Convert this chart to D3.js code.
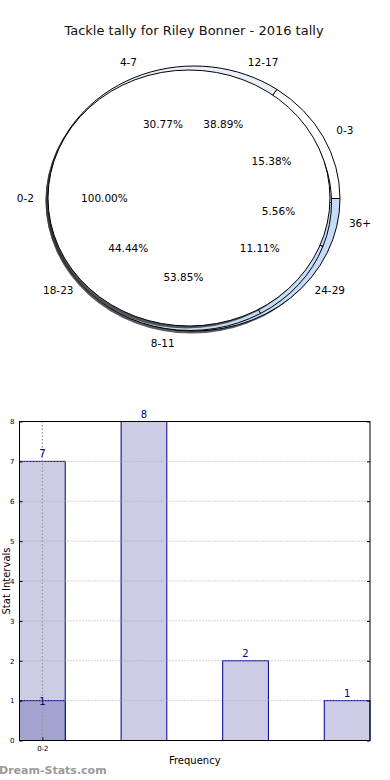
<!DOCTYPE html>
<html>
<head>
<meta charset="utf-8">
<script src="https://cdn.jsdelivr.net/npm/d3@7"></script>
<style>
  body { margin: 0; background: #fff; }
  svg { display: block; font-family: "DejaVu Sans", sans-serif; }
</style>
</head>
<body>
<script>
// data for the pies (one pie per group, drawn on top of each other)
let pie1Labels = ["0-2"];
let pie1Values = [1];
let pie2Labels = ["0-3", "4-7", "8-11"];
let pie2Values = [2, 4, 7];
let pie3Labels = ["12-17", "18-23", "24-29", "36+"];
let pie3Values = [7, 8, 2, 1];

// data for the bars
let barCats = [0, 1, 2, 3];
let barValues = [7, 8, 2, 1];
let barBaseValues = [1];
let xTickLabels = ["0-2"];
let yTicks = [0, 1, 2, 3, 4, 5, 6, 7, 8];

let width = 390, height = 780;

let svg = d3.select("body").append("svg")
  .attr("width", width)
  .attr("height", height);

svg.append("text")
  .attr("x", 194)
  .attr("y", 35)
  .attr("text-anchor", "middle")
  .attr("font-size", "13px")
  .attr("fill", "#111")
  .text("Tackle tally for Riley Bonner - 2016 tally");

// ---- pies ----
// matplotlib style: start at east, go counter clockwise
function drawPie(g, labels, values, cx, cy, rx, ry, colors, showShadow) {
  let pie = d3.pie().sort(null)
    .startAngle(Math.PI / 2)
    .endAngle(Math.PI / 2 - 2 * Math.PI);
  let arcs = pie(values);
  let arc = d3.arc().innerRadius(0).outerRadius(1);
  let grp = g.append("g");

  if (showShadow) {
    grp.append("ellipse")
      .attr("cx", cx - 2.5).attr("cy", cy + 2.5)
      .attr("rx", rx).attr("ry", ry)
      .attr("fill", "#333").attr("opacity", 0.8);
  }

  let wedges = grp.append("g")
    .attr("transform", "translate(" + cx + "," + cy + ") scale(" + rx + "," + ry + ")");
  wedges.selectAll("path")
    .data(arcs)
    .enter()
    .append("path")
    .attr("d", arc)
    .attr("fill", (d, i) => colors[i])
    .attr("stroke", "#000")
    .attr("stroke-width", 1)
    .attr("vector-effect", "non-scaling-stroke");

  return arcs.map((d, i) => {
    // d3 angle -> math angle
    let mid = (d.startAngle + d.endAngle) / 2;
    let a = Math.PI / 2 - mid;
    return {label: labels[i], pct: values[i] / d3.sum(values) * 100,
            cos: Math.cos(a), sin: Math.sin(a)};
  });
}

let pieG = svg.append("g");
let lab2 = drawPie(pieG, pie2Labels, pie2Values, 194, 198.5, 146, 132.5,
  ["#ffffff", "#e9f0fc", "#c6dbf7"], true);
let lab3 = drawPie(pieG, pie3Labels, pie3Values, 190, 202.5, 141.5, 128,
  ["#eef3fc", "#c6dbf7", "#c6dbf7", "#c6dbf7"], false);
let lab1 = drawPie(pieG, pie1Labels, pie1Values, 189, 198, 141, 128,
  ["#ffffff"], true);

// label positions use one common geometry per pie, like the reference
let labelGeo = [
  {labels: lab1, cx: 189, cy: 198, rx: 141, ry: 128},
  {labels: lab2, cx: 194, cy: 198.5, rx: 146, ry: 132.5},
  {labels: lab3, cx: 194, cy: 198, rx: 143, ry: 131}
];
labelGeo.forEach(function(p) {
  p.labels.forEach(function(d) {
    pieG.append("text")
      .attr("x", p.cx + 1.1 * p.rx * d.cos)
      .attr("y", p.cy - 1.1 * p.ry * d.sin)
      .attr("dy", "0.35em")
      .attr("text-anchor", d.cos >= 0 ? "start" : "end")
      .attr("font-size", "10.5px")
      .text(d.label);
    pieG.append("text")
      .attr("x", p.cx + 0.6 * p.rx * d.cos)
      .attr("y", p.cy - 0.6 * p.ry * d.sin)
      .attr("dy", "0.35em")
      .attr("text-anchor", "middle")
      .attr("font-size", "10.5px")
      .text(d.pct.toFixed(2) + "%");
  });
});

// ---- bars ----
let plotLeft = 19.5, plotRight = 370, plotTop = 421.5, plotBottom = 740.5;

let x = d3.scaleLinear()
  .domain([-0.225, 3.225])
  .range([plotLeft, plotRight]);
let y = d3.scaleLinear()
  .domain([0, 8])
  .range([plotBottom, plotTop]);
let bw = x(0.45) - x(0);

let barG = svg.append("g");

barG.selectAll(".bar")
  .data(barCats)
  .enter()
  .append("rect")
  .attr("class", "bar")
  .attr("x", d => x(d) - bw / 2)
  .attr("y", (d, i) => y(barValues[i]))
  .attr("width", bw)
  .attr("height", (d, i) => y(0) - y(barValues[i]))
  .attr("fill", "#cccce4")
  .attr("stroke", "#00008b")
  .attr("stroke-width", 1);

barG.selectAll(".base")
  .data(barBaseValues)
  .enter()
  .append("rect")
  .attr("class", "base")
  .attr("x", (d, i) => x(barCats[i]) - bw / 2)
  .attr("y", d => y(d))
  .attr("width", bw)
  .attr("height", d => y(0) - y(d))
  .attr("fill", "#a3a3cf")
  .attr("stroke", "#00008b")
  .attr("stroke-width", 1);

// dotted grid on top of the bars
barG.selectAll(".hgrid")
  .data(yTicks.slice(1, -1))
  .enter()
  .append("line")
  .attr("x1", plotLeft).attr("x2", plotRight)
  .attr("y1", d => y(d)).attr("y2", d => y(d))
  .attr("stroke", "#aaa")
  .attr("stroke-dasharray", "1,2");
barG.append("line")
  .attr("x1", x(0)).attr("x2", x(0))
  .attr("y1", plotTop).attr("y2", plotBottom)
  .attr("stroke", "#999")
  .attr("stroke-width", 1.3)
  .attr("stroke-dasharray", "1.5,2");

// value labels
barG.selectAll(".val")
  .data(barCats)
  .enter()
  .append("text")
  .attr("x", d => x(d))
  .attr("y", (d, i) => y(barValues[i]) - 4)
  .attr("text-anchor", "middle")
  .attr("font-size", "10px")
  .attr("fill", "#00008b")
  .text((d, i) => barValues[i]);
barG.selectAll(".baseval")
  .data(barBaseValues)
  .enter()
  .append("text")
  .attr("x", (d, i) => x(barCats[i]))
  .attr("y", d => y(d) + 4)
  .attr("text-anchor", "middle")
  .attr("font-size", "10px")
  .attr("fill", "#00008b")
  .text(d => d);

// frame
barG.append("rect")
  .attr("x", plotLeft).attr("y", plotTop)
  .attr("width", plotRight - plotLeft).attr("height", plotBottom - plotTop)
  .attr("fill", "none")
  .attr("stroke", "#000")
  .attr("stroke-width", 1);

// axes
let yAxis = d3.axisLeft(y).tickValues(yTicks).tickSize(-3).tickPadding(5);
let yg = barG.append("g")
  .attr("transform", "translate(" + plotLeft + ",0)")
  .call(yAxis);
yg.select(".domain").remove();
yg.selectAll("text").attr("font-size", "7px").attr("font-family", "DejaVu Sans");

let yAxisR = d3.axisRight(y).tickValues(yTicks).tickSize(-3).tickFormat("");
let ygr = barG.append("g")
  .attr("transform", "translate(" + plotRight + ",0)")
  .call(yAxisR);
ygr.select(".domain").remove();

let xAxis = d3.axisBottom(x).tickValues([0]).tickSize(-3).tickPadding(6)
  .tickFormat((d, i) => xTickLabels[i]);
let xg = barG.append("g")
  .attr("transform", "translate(0," + plotBottom + ")")
  .call(xAxis);
xg.select(".domain").remove();
xg.selectAll("text").attr("font-size", "7px").attr("font-family", "DejaVu Sans");

svg.append("text")
  .attr("x", (plotLeft + plotRight) / 2)
  .attr("y", 764)
  .attr("text-anchor", "middle")
  .attr("font-size", "10px")
  .text("Frequency");

svg.append("text")
  .attr("transform", "translate(9.5," + ((plotTop + plotBottom) / 2) + ") rotate(-90)")
  .attr("text-anchor", "middle")
  .attr("font-size", "10px")
  .text("Stat Intervals");

svg.append("text")
  .attr("x", -1)
  .attr("y", 774)
  .attr("font-size", "11px")
  .attr("font-weight", "bold")
  .attr("fill", "#999")
  .text("Dream-Stats.com");
</script>
</body>
</html>
